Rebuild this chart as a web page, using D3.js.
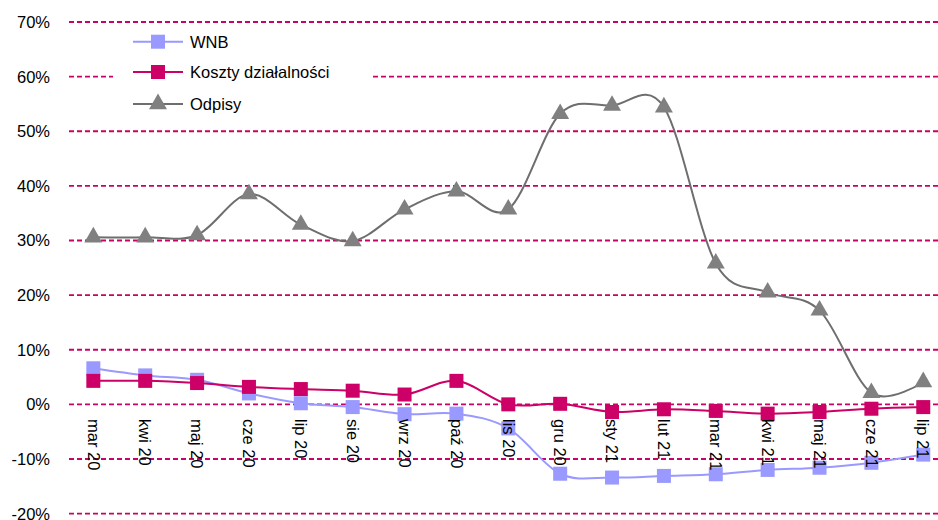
<!DOCTYPE html>
<html>
<head>
<meta charset="utf-8">
<script src="https://cdn.jsdelivr.net/npm/d3@7"></script>
<style>
  body { margin: 0; background: #fff; }
  svg { display: block; font-family: "Liberation Sans", Arial, sans-serif; }
</style>
</head>
<body>
<svg id="chart" width="938" height="520"></svg>
<script>
// dane
const months = ['mar 20', 'kwi 20', 'maj 20', 'cze 20', 'lip 20', 'sie 20', 'wrz 20', 'paź 20', 'lis 20',
                'gru 20', 'sty 21', 'lut 21', 'mar 21', 'kwi 21', 'maj 21', 'cze 21', 'lip 21'];
const wnb = [6.6, 5.3, 4.5, 2.0, 0.2, -0.5, -1.8, -1.7, -4.4, -12.7, -13.4, -13.1, -12.8, -12.0, -11.6, -10.7, -9.2];
const koszty = [4.3, 4.3, 3.9, 3.2, 2.8, 2.5, 1.8, 4.3, 0.0, 0.1, -1.4, -0.9, -1.2, -1.7, -1.4, -0.8, -0.5];
const odpisy = [30.6, 30.6, 31.0, 38.5, 32.9, 29.9, 35.7, 39.0, 35.7, 53.2, 54.7, 54.4, 25.8, 20.5, 17.2, 2.1, 4.1];
const yTicks = [-20, -10, 0, 10, 20, 30, 40, 50, 60, 70];

const series = [
  { name: 'WNB', values: wnb, color: '#9999FF', marker: 'square' },
  { name: 'Koszty działalności', values: koszty, color: '#CC0066', marker: 'square' },
  { name: 'Odpisy', values: odpisy, color: '#6E6E6E', fill: '#808080', marker: 'triangle' }
];

const svg = d3.select('#chart');

const x = d3.scalePoint().domain(months).range([67.4, 949.2]).padding(0.5);
const y = d3.scaleLinear().domain([-20, 70]).range([513.6, 22]);

// linie siatki
svg.append('g')
  .selectAll('line')
  .data(yTicks)
  .join('line')
  .attr('x1', 69).attr('x2', 938)
  .attr('y1', d => y(d)).attr('y2', d => y(d))
  .attr('stroke', '#CC0066')
  .attr('stroke-width', 1.8)
  .attr('stroke-dasharray', '5,3');

// oś Y
svg.append('g')
  .selectAll('text')
  .data(yTicks)
  .join('text')
  .attr('x', 50)
  .attr('y', d => y(d))
  .attr('dy', '0.36em')
  .attr('text-anchor', 'end')
  .style('font-size', '16.5px')
  .attr('fill', '#000')
  .text(d => d + '%');

const line = d3.line()
  .x((d, i) => x(months[i]))
  .y(d => y(d))
  .curve(d3.curveCatmullRom.alpha(0));

const triangle = d3.symbol().type(d3.symbolTriangle).size(140);

function drawMarker(sel, s) {
  if (s.marker === 'square') {
    sel.append('rect')
      .attr('x', -7).attr('y', -7)
      .attr('width', 14).attr('height', 14)
      .attr('fill', s.color);
  } else {
    sel.append('path')
      .attr('d', triangle())
      .attr('fill', s.fill);
  }
}

series.forEach(s => {
  const g = svg.append('g');
  g.append('path')
    .attr('d', line(s.values))
    .attr('fill', 'none')
    .attr('stroke', s.color)
    .attr('stroke-width', 2);
  g.selectAll('g.m')
    .data(s.values)
    .join('g')
    .attr('class', 'm')
    .attr('transform', (d, i) => `translate(${x(months[i])},${y(d)})`)
    .each(function() { drawMarker(d3.select(this), s); });
});

// etykiety osi X (obrócone)
svg.append('g')
  .selectAll('text')
  .data(months)
  .join('text')
  .attr('transform', d => `translate(${x(d)},419) rotate(90)`)
  .attr('dy', '0.35em')
  .style('font-size', '16.5px')
  .attr('fill', '#000')
  .text(d => d);

// legenda
const legend = svg.append('g');
legend.append('rect')
  .attr('x', 113).attr('y', 27)
  .attr('width', 260).attr('height', 93)
  .attr('fill', '#fff');
const legendY = [41.7, 72, 104];
series.forEach((s, i) => {
  const row = legend.append('g').attr('transform', `translate(0,${legendY[i]})`);
  row.append('line')
    .attr('x1', 133).attr('x2', 183)
    .attr('stroke', s.color)
    .attr('stroke-width', 2);
  const m = row.append('g').attr('transform', 'translate(158,0)');
  drawMarker(m, s);
  row.append('text')
    .attr('x', 190)
    .attr('dy', '0.36em')
    .style('font-size', '16.5px')
    .attr('fill', '#000')
    .text(s.name);
});
</script>
</body>
</html>
